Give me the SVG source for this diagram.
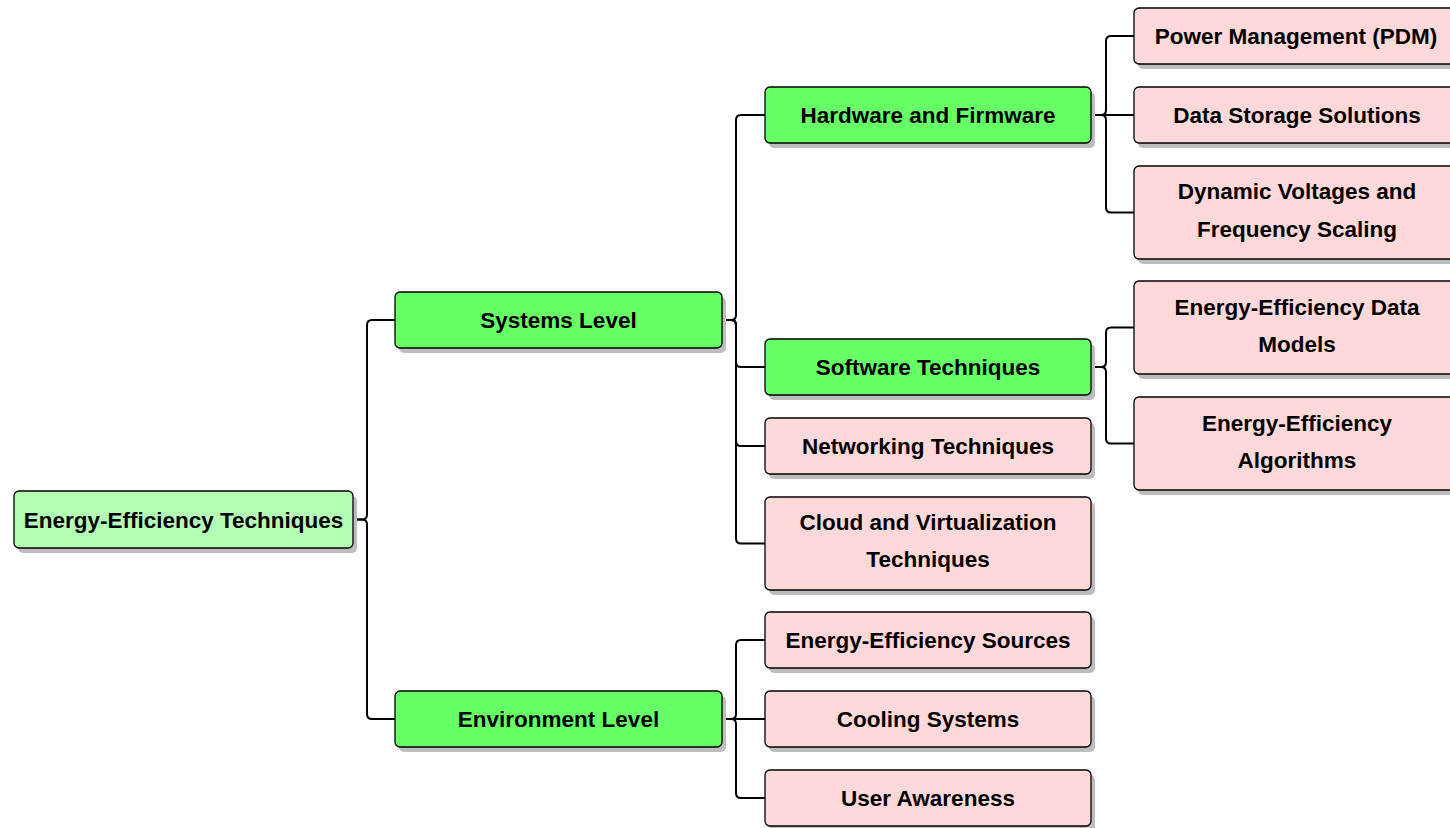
<svg xmlns="http://www.w3.org/2000/svg" width="1450" height="828" viewBox="0 0 1450 828">
<style>
.sh{fill:#bdbdbd}
.bx{stroke:#000;stroke-width:1.3}
.root{fill:#b3ffb3}
.grn{fill:#66ff66}
.pnk{fill:#ffd9d9}
.t{font-family:"Liberation Sans",Arial,sans-serif;font-weight:bold;font-size:22.5px;fill:#000;text-anchor:middle}
.c{fill:none;stroke:#000;stroke-width:2}
</style>
<rect width="1450" height="828" fill="#fff"/>
<g id="connectors">
<path class="c" d="M353 519.5 H362 Q367 519.5 367 514.5 V325 Q367 320 372 320 H395"/>
<path class="c" d="M353 519.5 H362 Q367 519.5 367 524.5 V714 Q367 719 372 719 H395"/>
<path class="c" d="M722 320 H731 Q736 320 736 315 V120 Q736 115 741 115 H765"/>
<path class="c" d="M722 320 H731 Q736 320 736 325 V362 Q736 367 741 367 H765"/>
<path class="c" d="M722 320 H731 Q736 320 736 325 V441 Q736 446 741 446 H765"/>
<path class="c" d="M722 320 H731 Q736 320 736 325 V538.5 Q736 543.5 741 543.5 H765"/>
<path class="c" d="M722 719 H731 Q736 719 736 714 V645 Q736 640 741 640 H765"/>
<path class="c" d="M722 719 H765"/>
<path class="c" d="M722 719 H731 Q736 719 736 724 V793 Q736 798 741 798 H765"/>
<path class="c" d="M1091 115 H1101 Q1106 115 1106 110 V41 Q1106 36 1111 36 H1134"/>
<path class="c" d="M1091 115 H1134"/>
<path class="c" d="M1091 115 H1101 Q1106 115 1106 120 V207.5 Q1106 212.5 1111 212.5 H1134"/>
<path class="c" d="M1091 367 H1101 Q1106 367 1106 362 V332.5 Q1106 327.5 1111 327.5 H1134"/>
<path class="c" d="M1091 367 H1101 Q1106 367 1106 372 V438.5 Q1106 443.5 1111 443.5 H1134"/>
</g>
<g id="root">
<rect class="sh" x="18" y="496" width="339" height="57" rx="5"/>
<rect class="bx root" x="14" y="491" width="339" height="57" rx="5"/>
<text class="t" x="183.5" y="527.5">Energy-Efficiency Techniques</text>
</g>
<g id="systems">
<rect class="sh" x="399" y="297" width="327" height="56" rx="5"/>
<rect class="bx grn" x="395" y="292" width="327" height="56" rx="5"/>
<text class="t" x="558.5" y="328">Systems Level</text>
</g>
<g id="environment">
<rect class="sh" x="399" y="696" width="327" height="56" rx="5"/>
<rect class="bx grn" x="395" y="691" width="327" height="56" rx="5"/>
<text class="t" x="558.5" y="727">Environment Level</text>
</g>
<g id="hardware">
<rect class="sh" x="769" y="92" width="326" height="56" rx="5"/>
<rect class="bx grn" x="765" y="87" width="326" height="56" rx="5"/>
<text class="t" x="928" y="123">Hardware and Firmware</text>
</g>
<g id="software">
<rect class="sh" x="769" y="344" width="326" height="56" rx="5"/>
<rect class="bx grn" x="765" y="339" width="326" height="56" rx="5"/>
<text class="t" x="928" y="375">Software Techniques</text>
</g>
<g id="networking">
<rect class="sh" x="769" y="423" width="326" height="56" rx="5"/>
<rect class="bx pnk" x="765" y="418" width="326" height="56" rx="5"/>
<text class="t" x="928" y="454">Networking Techniques</text>
</g>
<g id="cloud">
<rect class="sh" x="769" y="502" width="326" height="93" rx="5"/>
<rect class="bx pnk" x="765" y="497" width="326" height="93" rx="5"/>
<text class="t" x="928" y="530">Cloud and Virtualization</text>
<text class="t" x="928" y="567">Techniques</text>
</g>
<g id="sources">
<rect class="sh" x="769" y="617" width="326" height="56" rx="5"/>
<rect class="bx pnk" x="765" y="612" width="326" height="56" rx="5"/>
<text class="t" x="928" y="648">Energy-Efficiency Sources</text>
</g>
<g id="cooling">
<rect class="sh" x="769" y="696" width="326" height="56" rx="5"/>
<rect class="bx pnk" x="765" y="691" width="326" height="56" rx="5"/>
<text class="t" x="928" y="727">Cooling Systems</text>
</g>
<g id="user">
<rect class="sh" x="769" y="775" width="326" height="56" rx="5"/>
<rect class="bx pnk" x="765" y="770" width="326" height="56" rx="5"/>
<text class="t" x="928" y="806">User Awareness</text>
</g>
<g id="pdm">
<rect class="sh" x="1138" y="13" width="326" height="56" rx="5"/>
<rect class="bx pnk" x="1134" y="8" width="326" height="56" rx="5"/>
<text class="t" x="1296" y="44">Power Management (PDM)</text>
</g>
<g id="storage">
<rect class="sh" x="1138" y="92" width="326" height="56" rx="5"/>
<rect class="bx pnk" x="1134" y="87" width="326" height="56" rx="5"/>
<text class="t" x="1297" y="123">Data Storage Solutions</text>
</g>
<g id="dvfs">
<rect class="sh" x="1138" y="171" width="326" height="93" rx="5"/>
<rect class="bx pnk" x="1134" y="166" width="326" height="93" rx="5"/>
<text class="t" x="1297" y="199">Dynamic Voltages and</text>
<text class="t" x="1297" y="237">Frequency Scaling</text>
</g>
<g id="datamodels">
<rect class="sh" x="1138" y="286" width="326" height="93" rx="5"/>
<rect class="bx pnk" x="1134" y="281" width="326" height="93" rx="5"/>
<text class="t" x="1297" y="315">Energy-Efficiency Data</text>
<text class="t" x="1297" y="352">Models</text>
</g>
<g id="algorithms">
<rect class="sh" x="1138" y="402" width="326" height="93" rx="5"/>
<rect class="bx pnk" x="1134" y="397" width="326" height="93" rx="5"/>
<text class="t" x="1297" y="431">Energy-Efficiency</text>
<text class="t" x="1297" y="468">Algorithms</text>
</g>
</svg>
